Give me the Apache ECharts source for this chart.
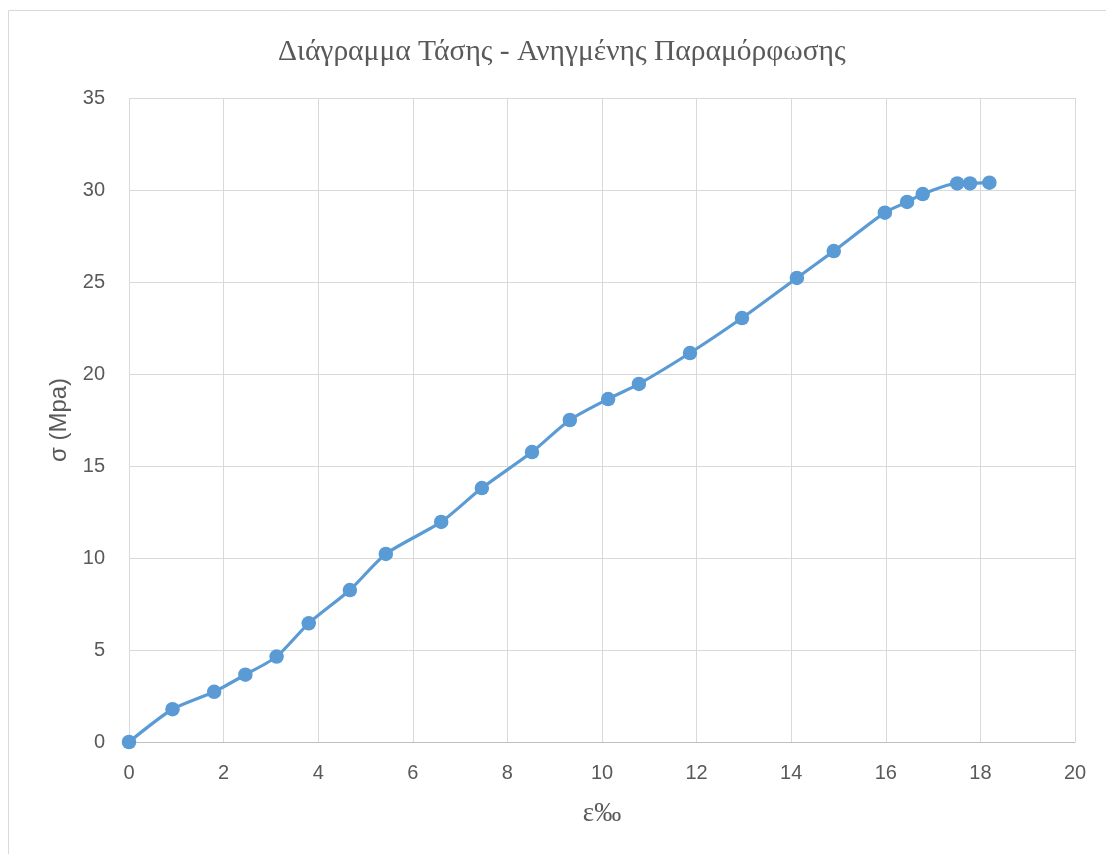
<!DOCTYPE html>
<html><head><meta charset="utf-8">
<script src="https://cdn.jsdelivr.net/npm/echarts@6/dist/echarts.min.js"></script>
<style>html,body{margin:0;padding:0;background:#fff}#c{width:1106px;height:854px}</style>
</head><body><div id="c"></div>
<script>
const strain = [0, 0.92, 1.80, 2.46, 3.12, 3.80, 4.67, 5.43, 6.60, 7.46, 8.52, 9.32, 10.13, 10.78, 11.86, 12.96, 14.12, 14.90, 15.98, 16.45, 16.78, 17.51, 17.78, 18.19];
const stress = [0, 1.78, 2.73, 3.66, 4.64, 6.45, 8.26, 10.22, 11.96, 13.80, 15.76, 17.50, 18.64, 19.46, 21.14, 23.04, 25.22, 26.68, 28.77, 29.35, 29.78, 30.36, 30.36, 30.40];
const titleText = 'Διάγραμμα Τάσης - Ανηγμένης Παραμόρφωσης';
const xName = 'ε‰';
const yName = 'σ (Mpa)';

const chart = echarts.init(document.getElementById('c'), null, {renderer:'canvas'});
chart.setOption({
  animation:false,
  backgroundColor:'#fff',
  graphic:[{type:'rect', shape:{x:8.5,y:10.5,width:1200,height:900}, style:{fill:'none', stroke:'#d9d9d9', lineWidth:1}, silent:true}],
  title:{text:titleText, left:278, top:32, padding:[5,0,5,0], textStyle:{fontFamily:'Liberation Serif', fontWeight:'normal', fontSize:29.5, color:'#595959'}},
  grid:{left:129, right:31, top:98, bottom:112},
  xAxis:{type:'value', min:0, max:20, interval:2,
    name:xName, nameLocation:'middle', nameGap:58,
    nameTextStyle:{fontFamily:'Liberation Serif', fontSize:27, color:'#595959'},
    axisLine:{show:true, lineStyle:{color:'#bfbfbf', width:1}},
    axisTick:{show:false},
    axisLabel:{fontFamily:'Liberation Sans', fontSize:20, color:'#595959', margin:21},
    splitLine:{show:true, lineStyle:{color:'#d9d9d9', width:1}}},
  yAxis:{type:'value', min:0, max:35, interval:5,
    name:yName, nameLocation:'middle', nameGap:58, nameRotate:90,
    nameTextStyle:{fontFamily:'Liberation Sans', fontSize:24, color:'#595959'},
    axisLine:{show:false}, axisTick:{show:false},
    axisLabel:{fontFamily:'Liberation Sans', fontSize:20, color:'#595959', margin:24},
    splitLine:{show:true, lineStyle:{color:'#d9d9d9', width:1}}},
  series:[{type:'line', data:strain.map((x,i)=>[x,stress[i]]), smooth:0.25,
    symbol:'circle', symbolSize:14.5,
    lineStyle:{color:'#5b9bd5', width:3.2},
    itemStyle:{color:'#5b9bd5'}}]
});
</script></body></html>
